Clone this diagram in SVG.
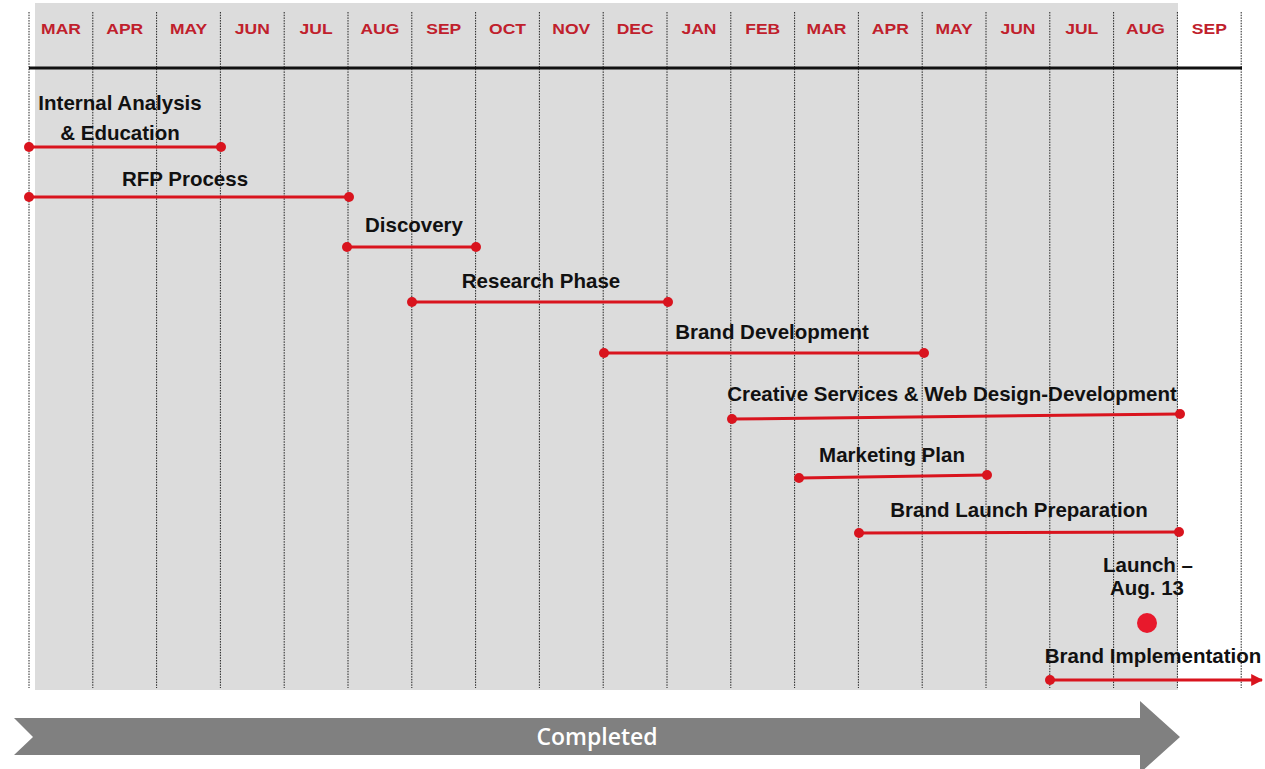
<svg xmlns="http://www.w3.org/2000/svg" width="1265" height="769" viewBox="0 0 1265 769">
<defs>
<style>
.bg{fill:#dcdcdc}
.grid{stroke:#222;stroke-width:1;stroke-dasharray:1.5 1.2}
.mon{font-family:"Liberation Sans",Arial,sans-serif;font-weight:bold;font-size:14px;fill:#c0202c;text-anchor:middle}
.lbl{font-family:"Liberation Sans",Arial,sans-serif;font-weight:bold;font-size:20.5px;fill:#111;text-anchor:middle}
.bar{stroke:#d9141e;stroke-width:3;fill:none}
.dot{fill:#d9141e}
</style>
<marker id="ah" viewBox="0 0 10 10" refX="9" refY="5" markerWidth="4" markerHeight="4" orient="auto" markerUnits="strokeWidth">
<path d="M0,0 L10,5 L0,10 z" fill="#d9141e"/>
</marker>
</defs>
<rect width="1265" height="769" fill="#fff"/>
<g id="grid">
<rect class="bg" x="35" y="3" width="1143" height="687"/>
<g>
<line class="grid" x1="29" y1="12" x2="29" y2="688"/>
<line class="grid" x1="92.8" y1="12" x2="92.8" y2="688"/>
<line class="grid" x1="156.6" y1="12" x2="156.6" y2="688"/>
<line class="grid" x1="220.4" y1="12" x2="220.4" y2="688"/>
<line class="grid" x1="284.2" y1="12" x2="284.2" y2="688"/>
<line class="grid" x1="348" y1="12" x2="348" y2="688"/>
<line class="grid" x1="411.8" y1="12" x2="411.8" y2="688"/>
<line class="grid" x1="475.6" y1="12" x2="475.6" y2="688"/>
<line class="grid" x1="539.4" y1="12" x2="539.4" y2="688"/>
<line class="grid" x1="603.2" y1="12" x2="603.2" y2="688"/>
<line class="grid" x1="667" y1="12" x2="667" y2="688"/>
<line class="grid" x1="730.8" y1="12" x2="730.8" y2="688"/>
<line class="grid" x1="794.6" y1="12" x2="794.6" y2="688"/>
<line class="grid" x1="858.4" y1="12" x2="858.4" y2="688"/>
<line class="grid" x1="922.2" y1="12" x2="922.2" y2="688"/>
<line class="grid" x1="986" y1="12" x2="986" y2="688"/>
<line class="grid" x1="1049.8" y1="12" x2="1049.8" y2="688"/>
<line class="grid" x1="1113.6" y1="12" x2="1113.6" y2="688"/>
<line class="grid" x1="1177.4" y1="12" x2="1177.4" y2="688"/>
<line class="grid" x1="1241.2" y1="12" x2="1241.2" y2="688"/>
</g>
<line x1="29" y1="68" x2="1242" y2="68" stroke="#111" stroke-width="3"/>
<g>
<text class="mon" transform="translate(61,34) scale(1.25,1)">MAR</text>
<text class="mon" transform="translate(124.7,34) scale(1.25,1)">APR</text>
<text class="mon" transform="translate(188.5,34) scale(1.25,1)">MAY</text>
<text class="mon" transform="translate(252.3,34) scale(1.25,1)">JUN</text>
<text class="mon" transform="translate(316.1,34) scale(1.25,1)">JUL</text>
<text class="mon" transform="translate(379.9,34) scale(1.25,1)">AUG</text>
<text class="mon" transform="translate(443.7,34) scale(1.25,1)">SEP</text>
<text class="mon" transform="translate(507.5,34) scale(1.25,1)">OCT</text>
<text class="mon" transform="translate(571.3,34) scale(1.25,1)">NOV</text>
<text class="mon" transform="translate(635.1,34) scale(1.25,1)">DEC</text>
<text class="mon" transform="translate(698.9,34) scale(1.25,1)">JAN</text>
<text class="mon" transform="translate(762.7,34) scale(1.25,1)">FEB</text>
<text class="mon" transform="translate(826.5,34) scale(1.25,1)">MAR</text>
<text class="mon" transform="translate(890.3,34) scale(1.25,1)">APR</text>
<text class="mon" transform="translate(954.1,34) scale(1.25,1)">MAY</text>
<text class="mon" transform="translate(1017.9,34) scale(1.25,1)">JUN</text>
<text class="mon" transform="translate(1081.7,34) scale(1.25,1)">JUL</text>
<text class="mon" transform="translate(1145.5,34) scale(1.25,1)">AUG</text>
<text class="mon" transform="translate(1209.3,34) scale(1.25,1)">SEP</text>
</g>
</g>
<g id="connectors">
<line class="bar" x1="29" y1="147" x2="221" y2="147"/>
<line class="bar" x1="29" y1="197" x2="349" y2="197"/>
<line class="bar" x1="347" y1="247" x2="476" y2="247"/>
<line class="bar" x1="412" y1="302" x2="668" y2="302"/>
<line class="bar" x1="604" y1="353" x2="924" y2="353"/>
<line class="bar" x1="732" y1="419" x2="1180" y2="414"/>
<line class="bar" x1="799" y1="478" x2="987" y2="475"/>
<line class="bar" x1="859" y1="533" x2="1179" y2="532"/>
<line class="bar" x1="1050" y1="680" x2="1262" y2="680" marker-end="url(#ah)"/>
</g>
<g id="task-internal">
<text class="lbl" x="120" y="110">Internal Analysis</text>
<text class="lbl" x="120" y="140">&amp; Education</text>
<circle class="dot" cx="29" cy="147" r="5"/><circle class="dot" cx="221" cy="147" r="5"/>
</g>
<g id="task-rfp">
<text class="lbl" x="185" y="186">RFP Process</text>
<circle class="dot" cx="29" cy="197" r="5"/><circle class="dot" cx="349" cy="197" r="5"/>
</g>
<g id="task-discovery">
<text class="lbl" x="414" y="232">Discovery</text>
<circle class="dot" cx="347" cy="247" r="5"/><circle class="dot" cx="476" cy="247" r="5"/>
</g>
<g id="task-research">
<text class="lbl" x="541" y="288">Research Phase</text>
<circle class="dot" cx="412" cy="302" r="5"/><circle class="dot" cx="668" cy="302" r="5"/>
</g>
<g id="task-brand-dev">
<text class="lbl" x="772" y="339">Brand Development</text>
<circle class="dot" cx="604" cy="353" r="5"/><circle class="dot" cx="924" cy="353" r="5"/>
</g>
<g id="task-creative">
<text class="lbl" x="952" y="401">Creative Services &amp; Web Design-Development</text>
<circle class="dot" cx="732" cy="419" r="5"/><circle class="dot" cx="1180" cy="414" r="5"/>
</g>
<g id="task-marketing">
<text class="lbl" x="892" y="462">Marketing Plan</text>
<circle class="dot" cx="799" cy="478" r="5"/><circle class="dot" cx="987" cy="475" r="5"/>
</g>
<g id="task-launch-prep">
<text class="lbl" x="1019" y="517">Brand Launch Preparation</text>
<circle class="dot" cx="859" cy="533" r="5"/><circle class="dot" cx="1179" cy="532" r="5"/>
</g>
<g id="milestone-launch">
<text class="lbl" x="1148" y="572">Launch –</text>
<text class="lbl" x="1147" y="595">Aug. 13</text>
<circle cx="1147" cy="623" r="10" fill="#e8192c"/>
</g>
<g id="task-implementation">
<text class="lbl" x="1153" y="663">Brand Implementation</text>
<circle class="dot" cx="1050" cy="680" r="5"/>
</g>
<g id="completed">
<path d="M14,718 L1140,718 L1140,701 L1180,737 L1140,773 L1140,755 L14,755 L33,737 Z" fill="#808080"/>
<text x="597" y="745" font-family="'Open Sans',sans-serif" font-weight="600" font-size="23" fill="#fff" text-anchor="middle">Completed</text>
</g>
</svg>
